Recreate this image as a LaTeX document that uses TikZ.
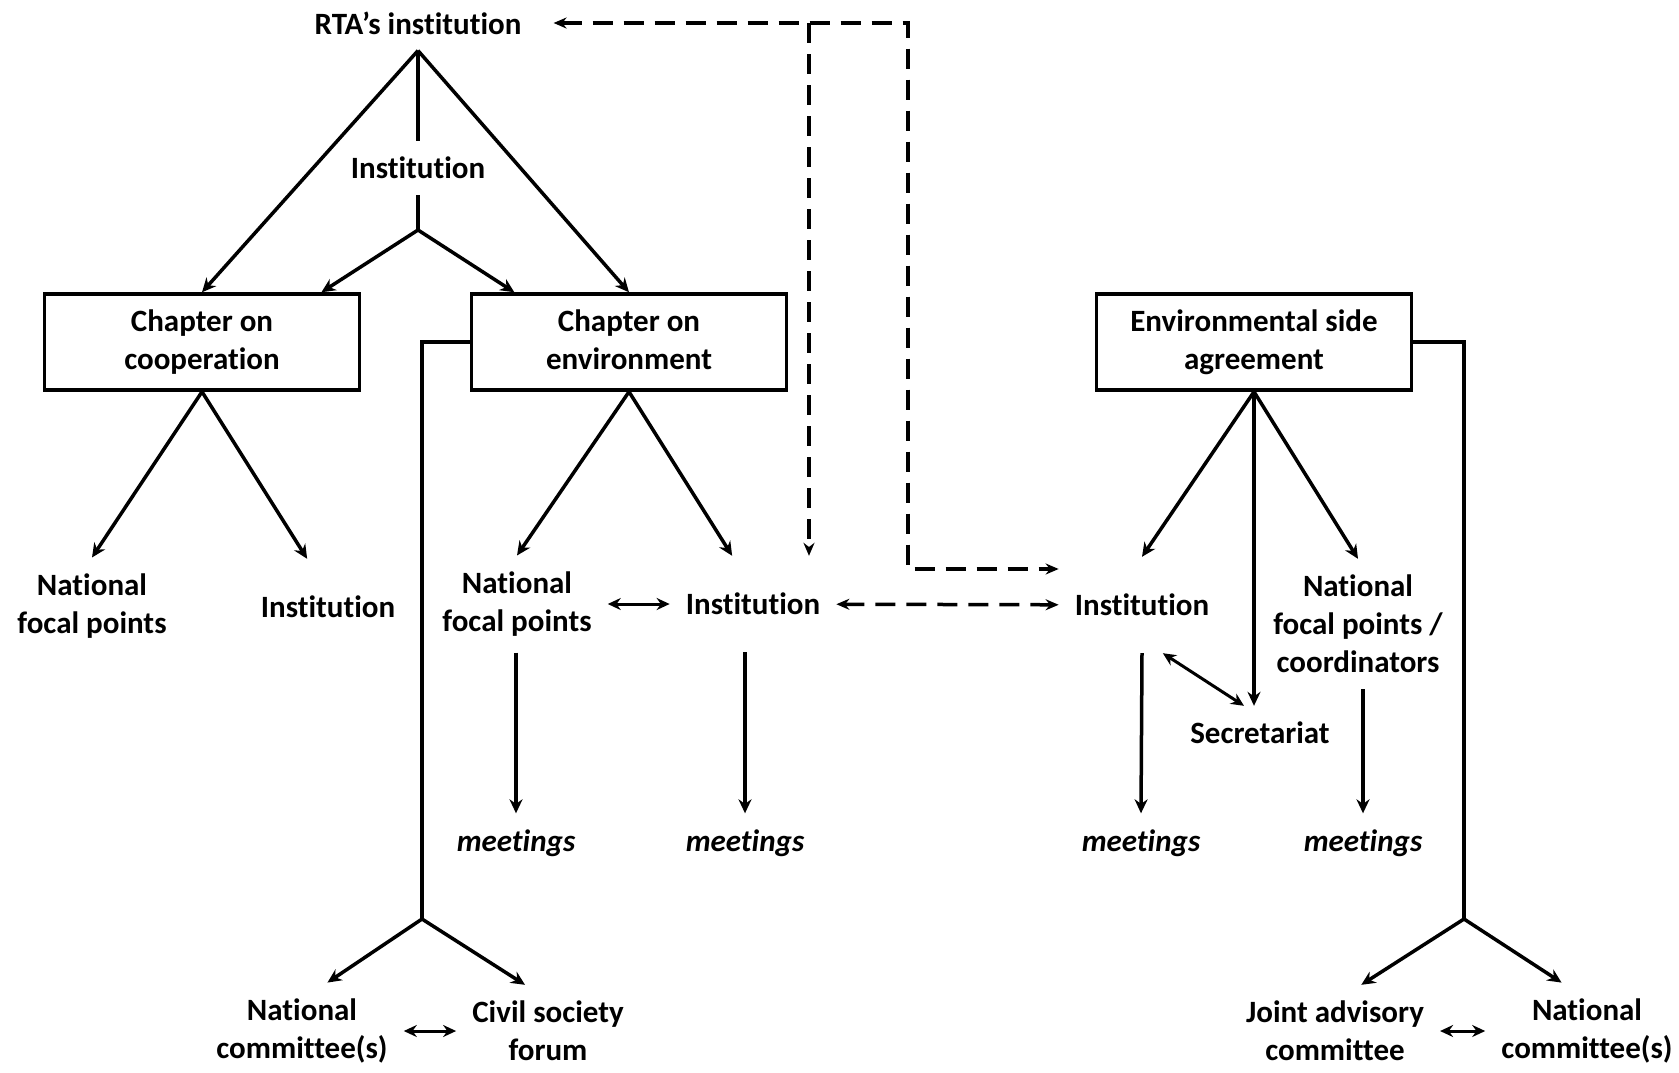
\documentclass[tikz,border=0pt]{standalone}
\usepackage{fontspec}
\setmainfont{Carlito}[Ligatures=NoCommon]
\usetikzlibrary{arrows.meta,positioning,calc}
\tikzset{
  box/.style={
    draw=black,line width=3.5pt,minimum width=315pt,minimum height=96pt,
    inner sep=0pt,align=center,font=\fontsize{31}{38}\selectfont\bfseries
  },
  lbl/.style={
    align=center,inner sep=16pt,font=\fontsize{31}{38}\selectfont\bfseries
  },
  rowlbl/.style={lbl,minimum height=96pt},
  meet/.style={lbl,font=\fontsize{31}{38}\selectfont\bfseries\itshape},
  link/.style={draw=black,line width=3.5pt},
  arrow/.style={-{Stealth[length=14pt,width=13pt]},draw=black,line width=3.5pt},
  twoway/.style={>={Stealth[length=13pt,width=12pt]},<->,draw=black,line width=3pt},
  dasharrow/.style={>={Stealth[length=13pt,width=11pt]},draw=black,line width=3.5pt,dash pattern=on 20pt off 11pt}
}
\begin{document}
\begin{tikzpicture}[x=1pt,y=-1pt]
\useasboundingbox (0,0) rectangle (1679,1072);
\node[lbl] (rta) at (418,23) {RTA’s institution};
\node[lbl] (inst0) at (418,168) {Institution};
\coordinate (j1) at (418,230);
\node[box] (coop) at (202,342) {Chapter on\\cooperation};
\node[box] (env) at (629,342) {Chapter on\\environment\vphantom{p}};
\node[box] (esa) at (1254,342) {Environmental side\\agreement};
\node[rowlbl] (nfp1) at (92,606) {National\\focal points};
\node[rowlbl] (inst1) at (328,607) {Institution};
\node[rowlbl] (nfp2) at (517,604) {National\\focal points};
\node[rowlbl] (inst2) at (753,604) {Institution};
\node[rowlbl] (inst3) at (1142,605) {Institution};
\node[rowlbl] (nfp3) at (1358,624) {National\\focal points /\\coordinators};
\node[lbl] (sec) at (1260,733) {Secretariat};
\node[meet] (mt1) at (516,843) {meetings};
\node[meet] (mt2) at (745,843) {meetings};
\node[meet] (mt3) at (1141,843) {meetings};
\node[meet] (mt4) at (1363,843) {meetings};
\coordinate (j2) at (422,919);
\coordinate (j3) at (1464,919);
\node[lbl] (nc1) at (302,1031) {National\\committee(s)};
\node[lbl] (csf) at (548,1031) {Civil society\\forum};
\node[lbl] (jac) at (1335,1031) {Joint advisory\\committee};
\node[lbl] (nc2) at (1587,1031) {National\\committee(s)};
\coordinate (dturn) at (908,569);
\coordinate (dbr) at (809,23);

\draw[link] (rta.south) -- (inst0.north);
\draw[link] (inst0.south) -- (j1);
\draw[arrow] (rta.south) -- (coop.north);
\draw[arrow] (rta.south) -- (env.north);
\draw[arrow] (j1) -- ($(coop.north)!0.75!(coop.north east)$);
\draw[arrow] (j1) -- ($(env.north)!0.72!(env.north west)$);

\draw[arrow] (coop.south) -- (nfp1.north);
\draw[arrow] (coop.south) -- ($(inst1.north)!0.25!(inst1.north west)$);
\draw[arrow] (env.south) -- (nfp2.north);
\draw[arrow] (env.south) -- ($(inst2.north)!0.25!(inst2.north west)$);
\draw[arrow] (esa.south) -- (inst3.north);
\draw[arrow] (esa.south) -- (nfp3.north);
\draw[arrow] (esa.south) -- (esa.south |- sec.north);

\draw[twoway] (nfp2) -- (inst2);
\draw[twoway] ($(inst3.south)!0.25!(inst3.south east)$) -- ([xshift=-16pt]sec.north);
\draw[arrow] (mt1.north |- nfp2.south) -- (mt1.north);
\draw[arrow] (mt2.north |- inst2.south) -- (mt2.north);
\draw[arrow] (inst3.south) -- (mt3.north);
\draw[arrow] (mt4.north |- nfp3.south) -- (mt4.north);

\draw[dasharrow,<->] ([xshift=16pt]rta.east) -| (dturn) -- (dturn -| inst3.west);
\draw[dasharrow,->] (dbr) -- (dbr |- inst2.north);
\draw[dasharrow,<->] (inst2) -- (inst3);

\draw[link] (env.west) -| (j2);
\draw[arrow] (j2) -- ($(nc1.north)!0.25!(nc1.north east)$);
\draw[arrow] (j2) -- ($(csf.north)!0.25!(csf.north west)$);
\draw[twoway] (nc1) -- (csf);
\draw[link] (esa.east) -| (j3);
\draw[arrow] (j3) -- ($(jac.north)!0.25!(jac.north east)$);
\draw[arrow] (j3) -- ($(nc2.north)!0.25!(nc2.north west)$);
\draw[twoway] (jac) -- (nc2);
\end{tikzpicture}
\end{document}
